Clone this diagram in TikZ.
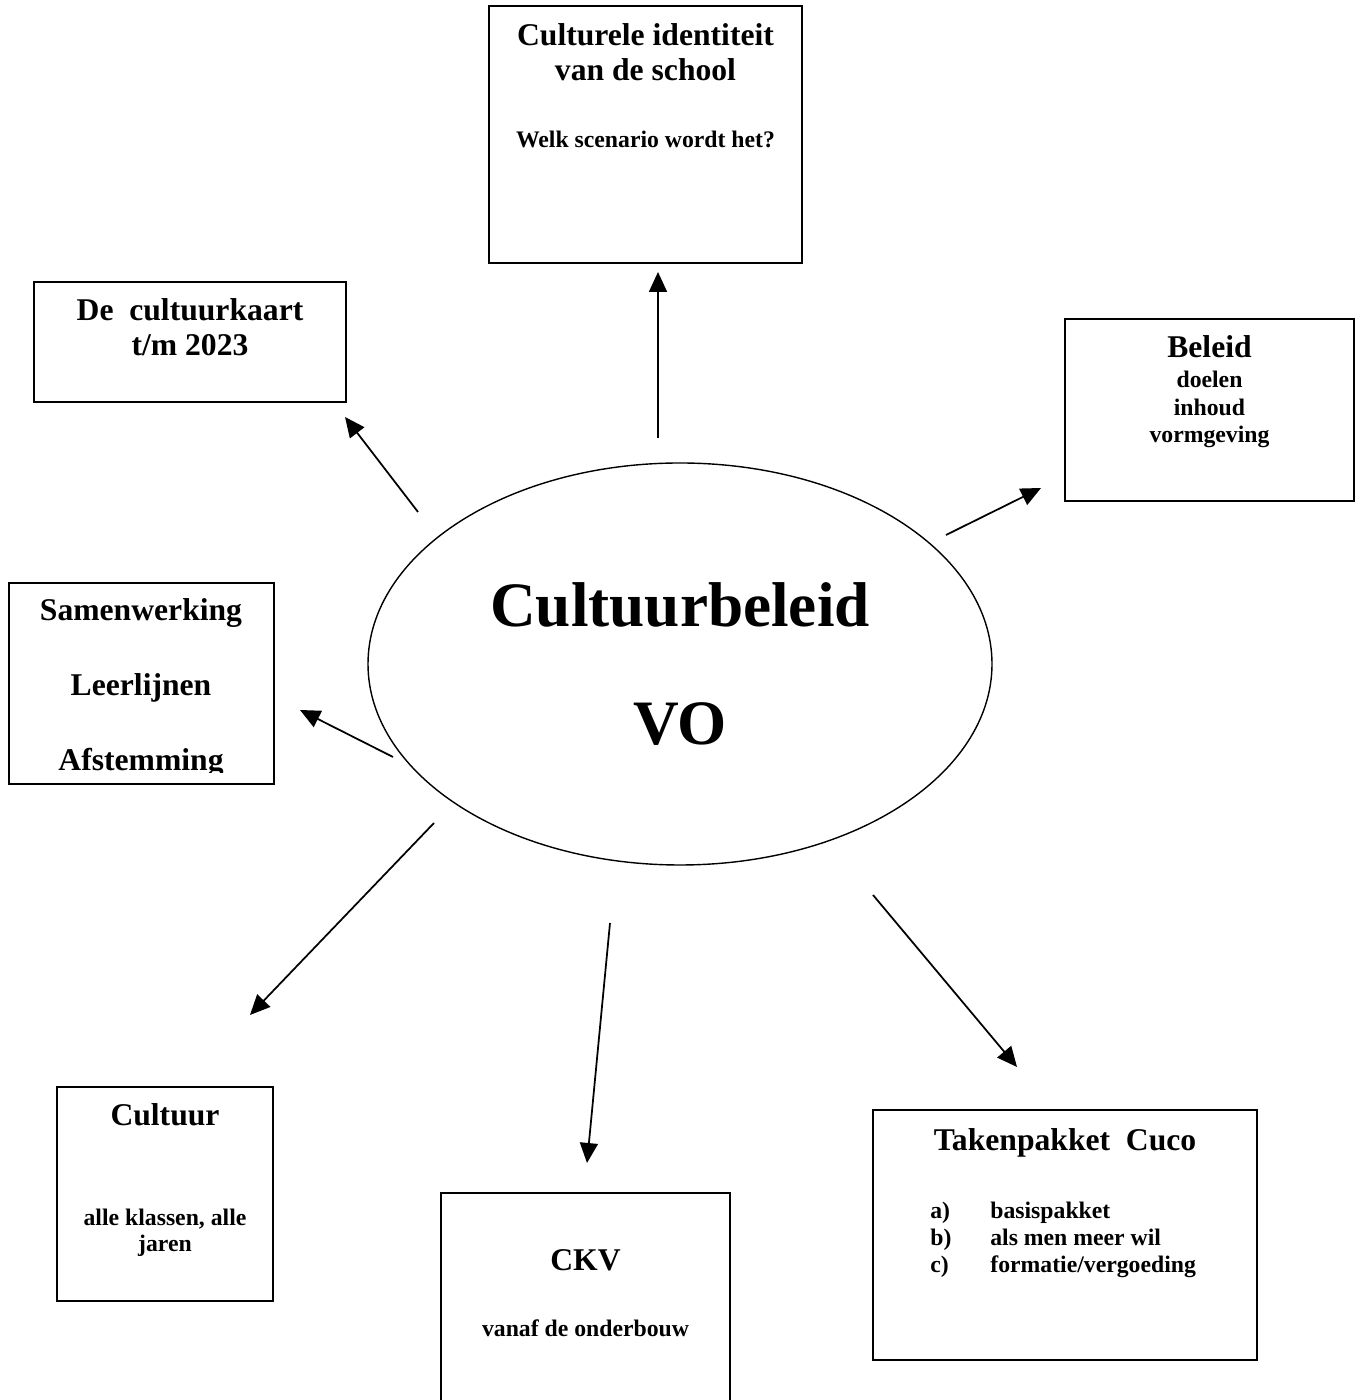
\documentclass[tikz,border=0pt]{standalone}
\usepackage{fontspec}
\setmainfont{Liberation Serif}
\usetikzlibrary{shapes.geometric}
\usetikzlibrary{positioning}
\usetikzlibrary{arrows.meta}

\begin{document}
\begin{tikzpicture}[scale=1,>={Triangle[length=0.4cm,width=0.36cm]},
  box/.style={draw,line width=1.1pt,inner sep=0pt},
  head/.style={font=\bfseries\fontsize{18}{20}\selectfont,align=center,inner sep=0pt,anchor=north},
  sub/.style={font=\bfseries\fontsize{13.5}{15.4}\selectfont,align=center,inner sep=0pt,anchor=north},
  pijl/.style={->,line width=1pt}]

        \useasboundingbox (0,0) rectangle (27.28,28);

        % centre
        \node[ellipse,draw,line width=0.8pt,minimum width=12.48cm,minimum height=8.04cm,inner sep=0pt,
              font=\bfseries\fontsize{36}{67}\selectfont,align=center] (main) at (13.6,14.72) {Cultuurbeleid\\VO};

        % boxes
        \node[box,minimum width=6.26cm,minimum height=5.14cm] (cid) at (12.91,25.31) {};
        \node[box,minimum width=6.24cm,minimum height=2.4cm] (kaart) at (3.8,21.16) {};
        \node[box,minimum width=5.78cm,minimum height=3.64cm] (beleid) at (24.19,19.8) {};
        \node[box,minimum width=5.3cm,minimum height=4.02cm] (samen) at (2.83,14.33) {};
        \node[box,minimum width=4.32cm,minimum height=4.28cm] (cultuur) at (3.3,4.12) {};
        \node[box,minimum width=5.78cm,minimum height=4.54cm] (ckv) at (11.71,1.87) {};
        \node[box,minimum width=7.68cm,minimum height=5cm] (taken) at (21.3,3.3) {};

        % texts
        \node[head] (cidT) at (12.91,27.54) {Culturele identiteit\\van de school};
        \node[sub,below=1cm of cidT] (cidS) {Welk scenario wordt het?};

        \node[head] (kaartT) at (3.8,22.04) {De\ \ cultuurkaart\\t/m 2023};

        \node[head] (beleidT) at (24.19,21.3) {Beleid};
        \node[sub,font=\bfseries\fontsize{13.5}{15.6}\selectfont] (beleidS) at (24.19,20.58) {doelen\\inhoud\\vormgeving};

        \begin{scope}
          \clip (0.18,12.54) rectangle (5.48,16.5);
          \node[head,font=\bfseries\fontsize{18}{42.7}\selectfont] (samenT) at (2.82,16.04) {Samenwerking\\Leerlijnen\\Afstemming};
        \end{scope}

        \node[head] (cultuurT) at (3.3,5.94) {Cultuur};
        \node[sub,font=\bfseries\fontsize{13.5}{14.4}\selectfont] (cultuurS) at (3.3,3.82) {alle klassen, alle\\jaren};

        \node[head] (ckvT) at (11.71,3.02) {CKV};
        \node[sub] (ckvS) at (11.71,1.62) {vanaf de onderbouw};

        \node[head] (takenT) at (21.3,5.44) {Takenpakket\ \ Cuco};
        \node[sub,anchor=north west,align=left] (takenS) at (18.6,3.96)
          {\makebox[1.2cm][l]{a)}basispakket\\\makebox[1.2cm][l]{b)}als men meer wil\\\makebox[1.2cm][l]{c)}formatie/vergoeding};

        % arrows
        \coordinate (t1) at (13.16,19.24);  \coordinate (h1) at (13.16,22.56);
        \coordinate (t2) at (8.36,17.76);   \coordinate (h2) at (6.9,19.66);
        \coordinate (t3) at (18.92,17.3);   \coordinate (h3) at (20.82,18.24);
        \coordinate (t4) at (7.86,12.86);   \coordinate (h4) at (6,13.8);
        \coordinate (t5) at (8.68,11.54);   \coordinate (h5) at (5,7.7);
        \coordinate (t6) at (12.2,9.54);    \coordinate (h6) at (11.74,4.74);
        \coordinate (t7) at (17.46,10.1);   \coordinate (h7) at (20.34,6.66);

        \draw[pijl] (t1) -- (h1);
        \draw[pijl] (t2) -- (h2);
        \draw[pijl] (t3) -- (h3);
        \draw[pijl] (t4) -- (h4);
        \draw[pijl] (t5) -- (h5);
        \draw[pijl] (t6) -- (h6);
        \draw[pijl] (t7) -- (h7);

\end{tikzpicture}
\end{document}
